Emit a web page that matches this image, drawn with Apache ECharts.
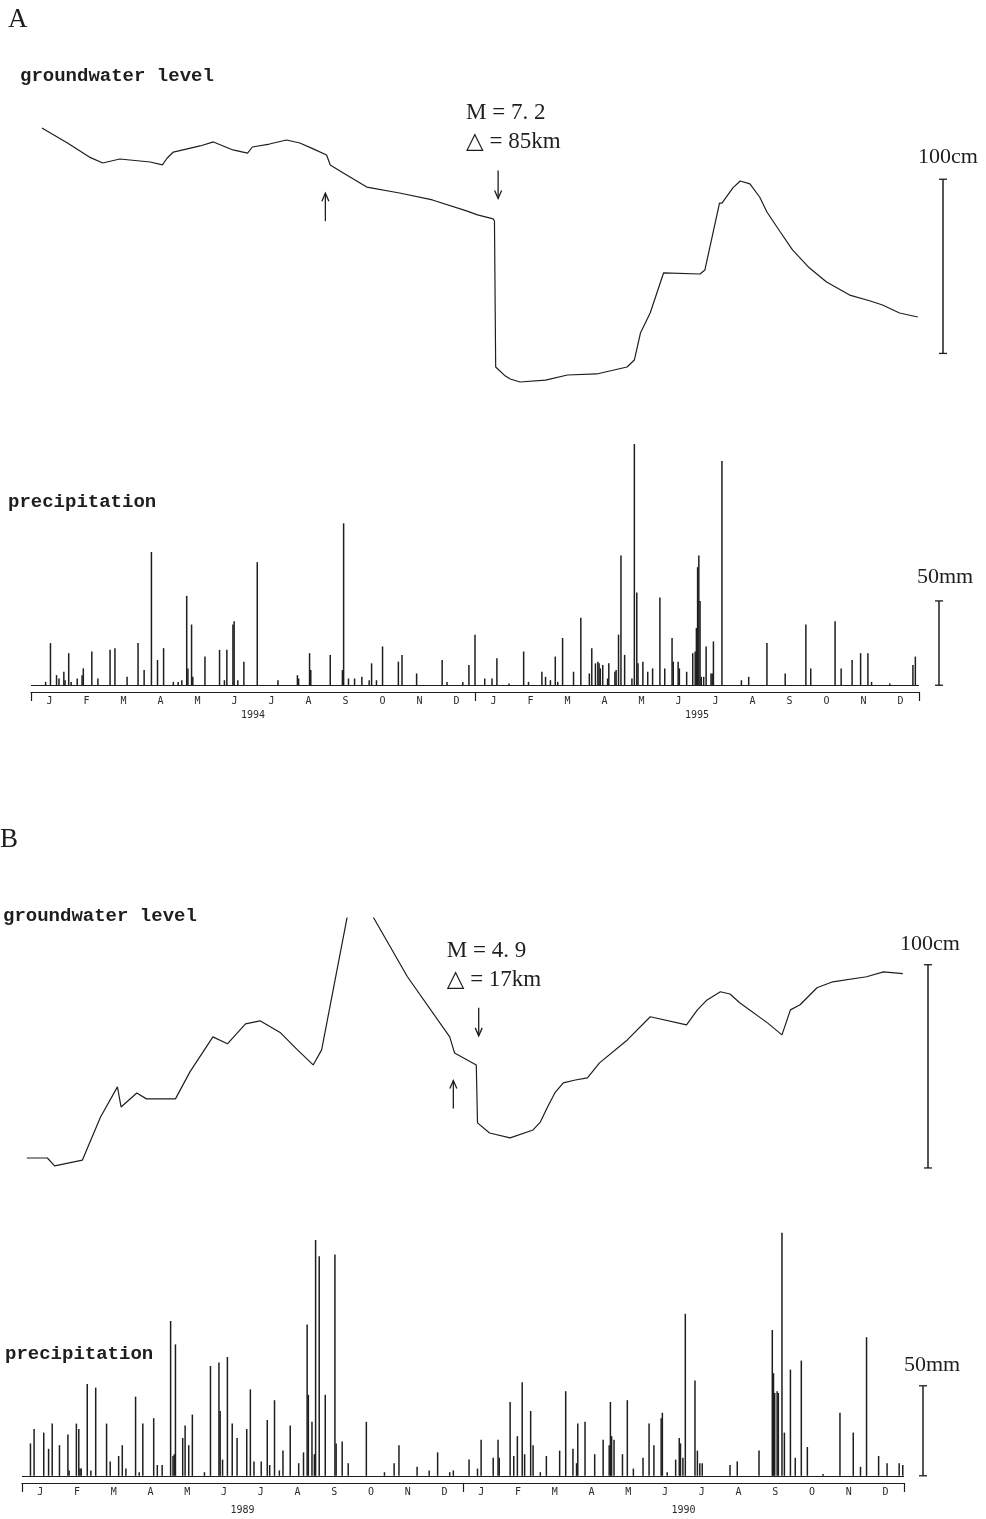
<!DOCTYPE html>
<html>
<head>
<meta charset="utf-8">
<script src="https://cdn.jsdelivr.net/npm/echarts@6/dist/echarts.min.js"></script>
<style>
  html, body { margin: 0; background: #fff; }
  #main { width: 986px; height: 1519px; }
</style>
</head>
<body>
<div id="main"></div>
<script>
// month / year labels
const months = ['J','F','M','A','M','J','J','A','S','O','N','D','J','F','M','A','M','J','J','A','S','O','N','D'];
const yearsA = ['1994', '1995'];
const yearsB = ['1989', '1990'];

// A: groundwater level [day from 1 Jan 1994, cm]
const levelA = [
  [9,150.4],[30,141.8],[48,133.7],[59,130.3],[73,132.6],[98,130.9],[108,129.2],[112,133.2],
  [117,136.6],[139,140.1],[150,142.4],[166,137.8],[178,136.0],[182,139.5],[196,141.2],[210,143.5],
  [221,141.8],[232,138.4],[243,134.9],[246,129.2],[254,125.7],[276,116.5],[303,113.1],[330,109.1],
  [358,102.8],[367,100.5],[380,98.2],[381,97.0],[382,13.2],[390,8.0],[394,6.3],[402,4.6],[423,5.7],
  [441,8.6],[465,9.2],[490,13.2],[496,17.2],[501,32.7],[509,44.2],[520,67.2],[550,66.6],
  [554,68.9],[566,107.3],[568,107.3],[577,116.0],[583,120.0],[591,118.3],[599,110.8],[605,102.2],
  [616,90.7],[626,80.4],[640,70.0],[654,62.0],[673,54.5],[690,51.1],[700,48.8],[714,44.2],[729,41.9]
];

// A: daily precipitation [day, mm]
const rainA = [
  [12,2],[16,25],[21,6],[23,4],[27,8],[28,3],[31,19],[33,2],[38,4],[42,6],[43,10],[50,20],
  [55,4],[65,21],[69,22],[79,5],[88,25],[93,9],[99,79],[104,15],[109,22],[117,2],[121,2],[124,3],
  [128,53],[129,10],[132,36],[133,5],[143,17],[155,21],[159,3],[161,21],[166,36],[167,38],[170,3],
  [175,14],[186,73],[203,3],[219,6],[220,4],[229,19],[230,9],[246,18],[256,9],[257,96],[261,4],
  [266,4],[272,5],[278,3],[280,13],[284,3],[289,23],[302,14],[305,18],[317,7],[338,15],[342,2],
  [355,2],[360,12],[365,30],[373,4],[379,4],[383,16],[393,1],[405,20],[409,2],[420,8],[423,5],
  [427,3],[431,17],[433,2],[437,28],[446,8],[452,40],[459,7],[461,22],[464,13],[466,14],[467,13],
  [468,10],[470,12],[474,4],[475,13],[480,8],[481,9],[483,30],[485,77],[488,18],[494,4],[496,143],
  [498,55],[499,13],[503,14],[507,8],[511,10],[517,52],[521,10],[527,28],[528,14],[532,14],[533,10],
  [539,8],[544,19],[546,20],[547,34],[548,70],[549,77],[550,50],[551,5],[553,5],[555,23],[559,7],
  [560,7],[561,26],[568,133],[584,3],[590,5],[605,25],[620,7],[637,36],[641,10],[661,38],[666,10],
  [675,15],[682,19],[688,19],[691,2],[706,1],[725,12],[727,17]
];

// B: groundwater level [day from 1 Jan 1989, cm]
const levelB = [
  [4,5.9],[21,5.9],[27,2.0],[50,4.9],[65,26.1],[79,40.9],[82,31.0],[95,37.9],[103,35.0],
  [127,35.0],[139,48.3],[158,65.5],[170,62.1],[185,71.9],[197,73.4],[214,67.5],[228,59.1],[241,51.7],
  [248,59.1],[269,124.1],[274,140.9],[291,124.1],[319,95.1],[354,65.5],[358,57.6],[376,51.7],
  [377,23.2],[387,18.2],[404,15.8],[423,19.7],[429,23.6],[435,31.0],[441,37.9],[448,42.9],[458,44.3],
  [468,45.3],[478,52.7],[501,64.0],[520,75.4],[550,71.4],[559,78.8],[567,83.7],[578,87.7],[586,86.6],
  [594,82.3],[617,72.4],[629,66.5],[636,78.8],[644,81.3],[658,89.7],[671,92.6],[699,95.1],[713,97.5],
  [729,96.6]
];

// B: daily precipitation [day, mm]
const rainB = [
  [7,18],[10,26],[18,24],[22,15],[25,29],[31,17],[38,23],[39,3],[45,29],[47,26],[48,4],[49,4],
  [54,51],[57,3],[61,49],[70,29],[73,8],[80,11],[83,17],[86,4],[94,44],[97,2],[100,29],[109,32],
  [112,6],[116,6],[123,86],[125,11],[126,12],[127,73],[133,21],[135,28],[138,17],[141,34],[151,2],
  [156,61],[163,63],[164,36],[166,9],[170,66],[174,29],[178,21],[186,26],[189,48],[192,8],[198,8],
  [203,31],[205,6],[209,42],[213,3],[216,14],[222,28],[229,7],[233,13],[236,84],[237,45],[240,30],
  [242,12],[243,131],[246,122],[251,45],[259,123],[260,18],[265,19],[270,7],[285,30],[300,2],
  [308,7],[312,17],[327,5],[337,3],[344,13],[354,2],[357,3],[370,9],[377,4],[380,20],[390,10],
  [394,20],[395,10],[404,41],[407,11],[410,22],[414,52],[416,12],[421,36],[423,17],[429,2],[434,11],
  [445,14],[450,47],[456,15],[459,7],[460,29],[466,30],[474,12],[481,20],[486,17],[487,41],[488,22],
  [490,20],[497,12],[501,42],[506,4],[514,10],[519,29],[523,17],[529,32],[530,35],[534,2],[541,9],
  [544,21],[545,18],[547,10],[549,90],[557,53],[559,14],[561,7],[563,7],[586,6],[592,8],[610,14],
  [621,81],[622,57],[623,46],[625,47],[626,46],[629,135],[631,24],[636,59],[640,10],[645,64],[650,16],
  [663,1],[677,35],[688,24],[694,5],[699,77],[709,11],[716,7],[726,7],[729,6]
];

// earthquakes: [day, level at arrow tip]
const quakeA = { day: 384, tip: 110, text: ['M = 7. 2', '\u25B3 = 85km'] };
const quakeB = { day: 378, tip: 66, text: ['M = 4. 9', '\u25B3 = 17km'] };
const preA = { day: 242, tip: 113 };
const preB = { day: 357, tip: 44 };

const chart = echarts.init(document.getElementById('main'));
const INK = '#1e1e1e';
const serif = "'Liberation Serif', 'DejaVu Serif', serif";
const mono = "'Liberation Mono', 'DejaVu Sans Mono', monospace";

function valueX(grid) {
  return { type: 'value', gridIndex: grid, min: 0, max: 730, show: false };
}
function monthAxis(grid) {
  return {
    type: 'category', gridIndex: grid, data: months, position: 'bottom',
    axisLine: { lineStyle: { color: INK, width: 1.2 } },
    axisTick: { length: 3, lineStyle: { color: INK } },
    axisLabel: { fontSize: 10, margin: 4, color: '#2a2a2a', fontFamily: "'DejaVu Sans Mono', monospace" },
    splitLine: { show: false }
  };
}
function yearAxis(grid, years, margin) {
  // only the end brackets and the year divider, plus the year names
  return {
    type: 'category', gridIndex: grid, data: years, position: 'bottom',
    axisLine: { show: true, lineStyle: { color: 'rgba(0,0,0,0)' } },
    axisTick: { show: true, length: 9, lineStyle: { color: INK, width: 1.2 } },
    axisLabel: { fontSize: 10, margin: margin, color: '#2a2a2a', fontFamily: "'DejaVu Sans Mono', monospace" },
    splitLine: { show: false }
  };
}
function rainSeries(xi, yi, data) {
  return {
    type: 'bar', xAxisIndex: xi, yAxisIndex: yi, data: data, barWidth: 1.5,
    itemStyle: { color: INK }, silent: true,
    markLine: {
      silent: true, symbol: 'none', label: { show: false },
      lineStyle: { color: INK, width: 1, type: 'solid' },
      data: [{ yAxis: 0 }]
    }
  };
}
function levelSeries(xi, yi, data) {
  return {
    type: 'line', xAxisIndex: xi, yAxisIndex: yi, data: data, showSymbol: false,
    clip: true, lineStyle: { color: INK, width: 1.2 }, silent: true
  };
}

chart.setOption({
  animation: false,
  backgroundColor: '#fff',
  grid: [
    { left: 31, width: 888, top: 120, height: 270 },
    { left: 31, width: 888, top: 439, height: 253 },
    { left: 22, width: 882, top: 918, height: 252 },
    { left: 22, width: 882, top: 1231, height: 252 }
  ],
  xAxis: [
    valueX(0), valueX(1), monthAxis(1), yearAxis(1, yearsA, 18),
    valueX(2), valueX(3), monthAxis(3), yearAxis(3, yearsB, 22)
  ],
  yAxis: [
    { type: 'value', gridIndex: 0, min: 0, max: 155, show: false },
    { type: 'value', gridIndex: 1, min: -4, max: 146, show: false },
    { type: 'value', gridIndex: 2, min: 0, max: 124, show: false },
    { type: 'value', gridIndex: 3, min: -4, max: 136, show: false }
  ],
  series: [
    levelSeries(0, 0, levelA),
    rainSeries(1, 1, rainA),
    levelSeries(4, 2, levelB),
    rainSeries(5, 3, rainB)
  ]
});

// annotations placed through the grids' own scales
const px = (g, x, y) => chart.convertToPixel({ gridIndex: g }, [x, y]);

function arrow(x, yTip, dir) {
  const y0 = yTip - dir * 28;
  return [
    { type: 'line', shape: { x1: x, y1: y0, x2: x, y2: yTip }, style: { stroke: INK, lineWidth: 1.3 } },
    { type: 'polyline', shape: { points: [[x - 3.5, yTip - dir * 8], [x, yTip], [x + 3.5, yTip - dir * 8]] },
      style: { stroke: INK, fill: null, lineWidth: 1.3 } }
  ];
}
function text(str, x, y, font, size, align, weight) {
  return { type: 'text', x: x, y: y, style: {
    text: str, fill: INK, font: (weight || 'normal') + ' ' + size + 'px ' + font,
    textAlign: align || 'left', textVerticalAlign: 'middle' } };
}
function scaleBar(g, xOff, v0, v1, label, labelDx, labelDy) {
  const gx = chart.getModel().getComponent('grid', g).coordinateSystem.getRect();
  const x = gx.x + gx.width + xOff;
  const yb = px(g, 0, v0)[1];
  const yt = px(g, 0, v1)[1];
  return [
    { type: 'line', shape: { x1: x, y1: yb, x2: x, y2: yt }, style: { stroke: INK, lineWidth: 1.5 } },
    { type: 'line', shape: { x1: x - 4, y1: yb, x2: x + 4, y2: yb }, style: { stroke: INK, lineWidth: 1.3 } },
    { type: 'line', shape: { x1: x - 4, y1: yt, x2: x + 4, y2: yt }, style: { stroke: INK, lineWidth: 1.3 } },
    text(label, x + labelDx, yt + labelDy, serif, 22, 'center')
  ];
}
function quake(g, q) {
  const p = px(g, q.day, q.tip);
  return arrow(p[0], p[1], 1).concat([
    text(q.text[0], p[0] - 32, p[1] - 85, serif, 23),
    text(q.text[1], p[0] - 32, p[1] - 56, serif, 23)
  ]);
}
function pre(g, q) {
  const p = px(g, q.day, q.tip);
  return arrow(p[0], p[1], -1);
}

let g = [];
g.push(text('A', 8, 20, serif, 27));
g.push(text('groundwater level', 20, 76, mono, 19, 'left', 'bold'));
g.push(text('precipitation', 8, 502, mono, 19, 'left', 'bold'));
g.push(text('B', 0, 840, serif, 27));
g.push(text('groundwater level', 3, 916, mono, 19, 'left', 'bold'));
g.push(text('precipitation', 5, 1354, mono, 19, 'left', 'bold'));
g = g.concat(quake(0, quakeA), pre(0, preA), quake(2, quakeB), pre(2, preB));
g = g.concat(scaleBar(0, 24, 21, 121, '100cm', 5, -22));
g = g.concat(scaleBar(1, 20, 0, 50, '50mm', 6, -24));
g = g.concat(scaleBar(2, 24, 1, 101, '100cm', 2, -21));
g = g.concat(scaleBar(3, 19, 0, 50, '50mm', 9, -21));

chart.setOption({ graphic: { elements: g } });
</script>
</body>
</html>
